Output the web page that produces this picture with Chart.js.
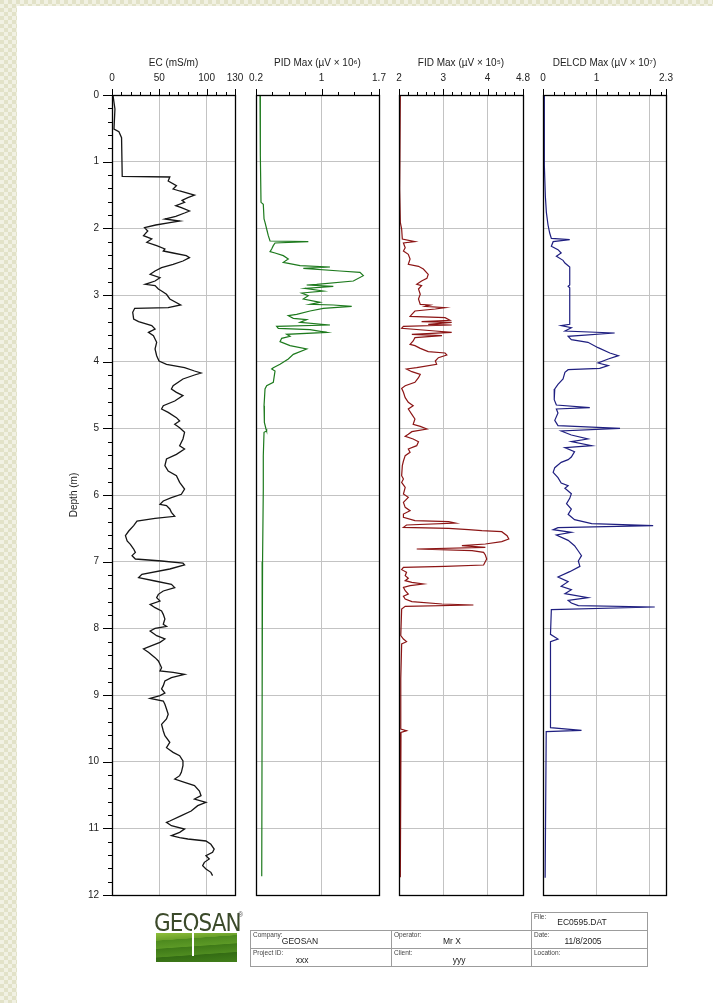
<!DOCTYPE html>
<html>
<head>
<meta charset="utf-8">
<script src="https://cdn.jsdelivr.net/npm/chart.js@4.4.1/dist/chart.umd.min.js"></script>
<style>
body {
    margin: 0; width: 713px; height: 1003px; overflow: hidden; position: relative;
    background-color: #e8e8d0;
    background-image: repeating-conic-gradient(#f1f1e3 0% 25%, #e2e2c8 0% 50%);
    background-size: 8px 8px;
    font-family: "Liberation Sans", Arial, sans-serif;
}
#paper { position: absolute; left: 17px; top: 6px; right: 0; bottom: 0; background: #fff; }
canvas { position: absolute; left: 0; top: 0; }
.cell { position: absolute; border: 1px solid #9c9c9c; box-sizing: border-box; }
.lbl { position: absolute; left: 2px; top: 0px; font-size: 6.5px; color: #444; }
.val { position: absolute; width: 100px; text-align: center; font-size: 8.5px; color: #222; }
#logoText { position: absolute; left: 154px; top: 908px; font-size: 25px; color: #3b4a2a; letter-spacing: -1px;
    transform: scaleX(0.86); transform-origin: left top; font-family: "DejaVu Sans", sans-serif; }
#logoBox { position: absolute; left: 156px; top: 933px; width: 81px; height: 29px;
    background: linear-gradient(176deg, #8fbf3a 0%, #6aa02a 22%, #4d8a1e 23%, #5c9926 45%, #3f7a18 47%, #4f8c20 70%, #346c14 72%, #427f1a 100%); }
#logoPost { position: absolute; left: 192px; top: 916px; width: 2px; height: 40px; background: #fff; }
#reg { position: absolute; left: 238px; top: 911px; font-size: 7px; color: #555; }
</style>
</head>
<body>
<div id="paper"></div>
<canvas id="c0" width="713" height="1003"></canvas>
<canvas id="c1" width="713" height="1003"></canvas>
<canvas id="c2" width="713" height="1003"></canvas>
<canvas id="c3" width="713" height="1003"></canvas>

<div id="logoBox"></div>
<div id="logoText">GEOSAN</div>
<div id="logoPost"></div>
<div id="reg">®</div>

<div class="cell" style="left:531px;top:912px;width:117px;height:19px;"><span class="lbl">File:</span></div>
<div class="cell" style="left:250px;top:930px;width:142px;height:19px;"><span class="lbl">Company:</span></div>
<div class="cell" style="left:391px;top:930px;width:141px;height:19px;"><span class="lbl">Operator:</span></div>
<div class="cell" style="left:531px;top:930px;width:117px;height:19px;"><span class="lbl">Date:</span></div>
<div class="cell" style="left:250px;top:948px;width:142px;height:19px;"><span class="lbl">Project ID:</span></div>
<div class="cell" style="left:391px;top:948px;width:141px;height:19px;"><span class="lbl">Client:</span></div>
<div class="cell" style="left:531px;top:948px;width:117px;height:19px;"><span class="lbl">Location:</span></div>
<div class="val" style="left:532px;top:917px;">EC0595.DAT</div>
<div class="val" style="left:250px;top:936px;">GEOSAN</div>
<div class="val" style="left:402px;top:936px;">Mr X</div>
<div class="val" style="left:533px;top:936px;">11/8/2005</div>
<div class="val" style="left:252px;top:955px;">xxx</div>
<div class="val" style="left:409px;top:955px;">yyy</div>

<script>
// EC (mS/m)
var ecDepth = [0.00, 0.21, 0.51, 0.55, 0.64, 1.22, 1.23, 1.29, 1.36, 1.41, 1.44, 1.50, 1.54, 1.58, 1.61, 1.66, 1.69, 1.74, 1.77, 1.82,
    1.86, 1.89, 1.91, 1.95, 1.99, 2.04, 2.11, 2.16, 2.21, 2.26, 2.31, 2.34, 2.37, 2.41, 2.44, 2.49, 2.54, 2.59, 2.64, 2.69,
    2.74, 2.79, 2.84, 2.86, 2.91, 2.94, 2.99, 3.06, 3.15, 3.19, 3.20, 3.26, 3.36, 3.40, 3.46, 3.51, 3.56, 3.61, 3.66, 3.71,
    3.81, 3.91, 3.99, 4.04, 4.09, 4.14, 4.17, 4.20, 4.26, 4.36, 4.41, 4.46, 4.51, 4.59, 4.66, 4.71, 4.76, 4.84, 4.89, 4.94,
    4.99, 5.06, 5.16, 5.26, 5.31, 5.39, 5.46, 5.56, 5.64, 5.71, 5.81, 5.91, 5.99, 6.04, 6.09, 6.14, 6.16, 6.21, 6.26, 6.32,
    6.35, 6.39, 6.46, 6.54, 6.61, 6.69, 6.74, 6.81, 6.86, 6.91, 6.96, 6.99, 7.02, 7.05, 7.11, 7.19, 7.24, 7.29, 7.34, 7.39,
    7.44, 7.49, 7.54, 7.59, 7.64, 7.69, 7.74, 7.79, 7.86, 7.94, 7.97, 8.00, 8.04, 8.11, 8.16, 8.21, 8.26, 8.31, 8.36, 8.44,
    8.49, 8.54, 8.59, 8.64, 8.66, 8.69, 8.74, 8.79, 8.86, 8.91, 8.97, 9.01, 9.05, 9.09, 9.14, 9.21, 9.29, 9.36, 9.44, 9.54,
    9.61, 9.71, 9.79, 9.86, 9.91, 9.99, 10.06, 10.16, 10.21, 10.26, 10.31, 10.36, 10.44, 10.51, 10.56, 10.61, 10.66, 10.74, 10.81, 10.89,
    10.91, 10.96, 11.01, 11.06, 11.11, 11.14, 11.16, 11.19, 11.24, 11.31, 11.36, 11.41, 11.46, 11.51, 11.56, 11.61, 11.66, 11.71];
var ecValue = [1.0, 3.1, 2.1, 7.3, 10.1, 10.8, 61.1, 59.4, 68.1, 64.6, 71.5, 87.2, 80.2, 74.0, 76.7, 67.4, 73.3, 81.9, 76.7, 67.4,
    55.9, 71.5, 62.8, 46.2, 34.4, 37.8, 33.3, 42.0, 36.8, 47.2, 55.9, 54.2, 64.6, 78.5, 81.9, 75.0, 64.6, 52.4, 45.5, 40.3,
    50.7, 45.5, 35.1, 45.5, 49.0, 52.4, 57.6, 61.1, 72.6, 59.4, 24.0, 21.9, 22.9, 28.1, 42.0, 45.5, 38.5, 43.8, 45.5, 47.2,
    45.5, 47.2, 49.7, 57.6, 76.7, 87.2, 94.1, 87.2, 75.0, 64.6, 62.8, 68.1, 75.0, 66.3, 54.2, 52.4, 59.4, 68.1, 71.5, 66.3,
    71.5, 76.7, 75.0, 71.5, 76.7, 68.1, 57.6, 55.9, 59.4, 68.1, 71.5, 76.7, 73.3, 62.8, 54.2, 50.7, 57.6, 61.1, 62.8, 66.3,
    45.5, 26.4, 22.9, 17.7, 14.2, 16.0, 19.4, 22.9, 24.7, 21.2, 24.7, 52.4, 75.0, 76.7, 61.1, 31.6, 28.1, 45.5, 62.8, 66.3,
    54.2, 49.0, 47.2, 50.7, 40.3, 45.5, 52.4, 54.2, 55.9, 54.2, 57.6, 45.5, 40.3, 47.2, 55.9, 50.7, 42.0, 33.3, 38.5, 45.5,
    49.0, 50.7, 52.4, 50.7, 64.6, 76.7, 62.8, 55.9, 54.2, 52.4, 55.9, 50.7, 40.3, 54.2, 55.9, 57.6, 59.4, 57.6, 52.4, 54.2,
    55.9, 61.1, 57.6, 64.6, 71.5, 75.0, 75.0, 73.3, 71.5, 66.3, 76.7, 87.2, 92.4, 94.1, 87.2, 99.3, 90.6, 83.7, 73.3, 61.1,
    57.6, 62.8, 76.7, 71.5, 62.8, 71.5, 80.2, 99.3, 104.5, 108.0, 106.3, 99.3, 102.8, 97.6, 95.8, 99.3, 104.5, 106.3];

// PID Max (uV x 10^6)
var pidDepth = [0.00, 0.91, 1.61, 1.64, 1.86, 1.91, 2.01, 2.11, 2.19, 2.20, 2.22, 2.26, 2.31, 2.35, 2.37, 2.41, 2.46, 2.51, 2.56, 2.58,
    2.60, 2.64, 2.66, 2.71, 2.79, 2.84, 2.85, 2.87, 2.90, 2.94, 2.97, 3.01, 3.06, 3.11, 3.14, 3.15, 3.17, 3.20, 3.24, 3.29,
    3.31, 3.35, 3.37, 3.41, 3.45, 3.47, 3.50, 3.52, 3.56, 3.59, 3.62, 3.65, 3.70, 3.76, 3.81, 3.89, 3.96, 4.04, 4.09, 4.11,
    4.14, 4.31, 4.36, 4.41, 4.66, 4.91, 5.01, 5.04, 5.06, 5.41, 5.91, 7.00, 9.00, 11.72];
var pidValue = [0.249, 0.253, 0.261, 0.289, 0.298, 0.310, 0.330, 0.350, 0.371, 0.838, 0.432, 0.411, 0.391, 0.371, 0.432, 0.533, 0.594, 0.533, 0.737, 1.102,
    0.777, 1.224, 1.468, 1.509, 1.387, 0.940, 0.818, 1.143, 0.798, 1.021, 0.757, 0.838, 0.777, 0.980, 0.859, 1.143, 1.367, 1.021, 0.859, 0.696,
    0.594, 0.655, 0.818, 0.737, 1.102, 0.452, 0.472, 0.859, 1.062, 0.574, 0.615, 0.513, 0.493, 0.615, 0.818, 0.655, 0.594, 0.493, 0.411, 0.391,
    0.432, 0.411, 0.330, 0.310, 0.298, 0.302, 0.322, 0.330, 0.298, 0.289, 0.289, 0.280, 0.275, 0.270];

// FID Max (uV x 10^5)
var fidDepth = [0.00, 1.00, 1.41, 1.91, 2.01, 2.16, 2.20, 2.22, 2.29, 2.34, 2.39, 2.46, 2.54, 2.57, 2.61, 2.69, 2.75, 2.79, 2.84, 2.86,
    2.91, 2.99, 3.06, 3.14, 3.15, 3.17, 3.19, 3.21, 3.24, 3.29, 3.32, 3.34, 3.38, 3.40, 3.41, 3.44, 3.45, 3.47, 3.50, 3.54,
    3.56, 3.59, 3.61, 3.64, 3.69, 3.74, 3.76, 3.80, 3.85, 3.87, 3.90, 3.94, 3.99, 4.04, 4.09, 4.11, 4.15, 4.19, 4.24, 4.31,
    4.36, 4.40, 4.46, 4.54, 4.61, 4.66, 4.71, 4.79, 4.86, 4.94, 4.97, 5.01, 5.05, 5.09, 5.12, 5.16, 5.20, 5.26, 5.31, 5.36,
    5.41, 5.49, 5.56, 5.71, 5.76, 5.81, 5.885, 5.985, 6.035, 6.11, 6.185, 6.235, 6.285, 6.335, 6.385, 6.40, 6.42, 6.45, 6.485, 6.50,
    6.52, 6.535, 6.55, 6.61, 6.66, 6.70, 6.735, 6.76, 6.785, 6.81, 6.835, 6.86, 6.90, 6.96, 7.05, 7.07, 7.085, 7.12, 7.16, 7.21,
    7.25, 7.285, 7.31, 7.335, 7.36, 7.385, 7.435, 7.485, 7.52, 7.56, 7.60, 7.635, 7.65, 7.67, 7.71, 8.11, 8.16, 8.20, 8.235, 8.76,
    9.51, 9.535, 9.56, 10.76, 11.735];
var fidValue = [2.03, 2.02, 2.015, 2.03, 2.06, 2.075, 2.36, 2.10, 2.14, 2.10, 2.21, 2.25, 2.21, 2.44, 2.55, 2.66, 2.63, 2.51, 2.40, 2.51,
    2.44, 2.48, 2.44, 2.48, 2.70, 2.59, 3.04, 2.82, 2.36, 2.29, 2.25, 3.04, 3.15, 2.51, 3.19, 2.66, 3.19, 2.10, 2.06, 2.82,
    3.19, 2.29, 2.97, 2.36, 2.32, 2.25, 2.36, 2.48, 2.66, 3.04, 3.08, 2.89, 2.82, 2.85, 2.40, 2.17, 2.29, 2.48, 2.44, 2.36,
    2.14, 2.06, 2.10, 2.14, 2.21, 2.32, 2.21, 2.29, 2.36, 2.32, 2.48, 2.63, 2.29, 2.21, 2.14, 2.32, 2.44, 2.40, 2.21, 2.25,
    2.14, 2.10, 2.075, 2.06, 2.10, 2.06, 2.14, 2.10, 2.21, 2.10, 2.14, 2.25, 2.10, 2.10, 2.36, 3.12, 3.27, 2.17, 2.10, 3.12,
    3.57, 3.87, 4.32, 4.44, 4.48, 4.32, 3.95, 3.42, 3.95, 2.40, 3.65, 3.91, 3.95, 3.98, 3.91, 3.04, 2.10, 2.06, 2.17, 2.14,
    2.21, 2.14, 2.29, 2.55, 2.25, 2.10, 2.14, 2.21, 2.10, 2.14, 2.29, 2.97, 3.68, 2.14, 2.06, 2.04, 2.10, 2.17, 2.06, 2.04,
    2.04, 2.17, 2.045, 2.03, 2.03];

// DELCD Max (uV x 10^7)
var delcdDepth = [0.00, 1.05, 1.52, 1.76, 1.95, 2.07, 2.15, 2.17, 2.20, 2.27, 2.32, 2.37, 2.42, 2.48, 2.52, 2.58, 2.85, 2.87, 2.89, 3.44,
    3.46, 3.49, 3.54, 3.57, 3.62, 3.67, 3.71, 3.79, 3.87, 3.91, 3.96, 4.02, 4.06, 4.10, 4.12, 4.16, 4.26, 4.34, 4.41, 4.57,
    4.65, 4.69, 4.71, 4.77, 4.88, 4.96, 5.00, 5.04, 5.10, 5.16, 5.20, 5.26, 5.29, 5.35, 5.43, 5.47, 5.51, 5.59, 5.66, 5.74,
    5.82, 5.86, 5.90, 5.98, 6.05, 6.13, 6.21, 6.29, 6.37, 6.43, 6.46, 6.49, 6.52, 6.56, 6.60, 6.68, 6.76, 6.84, 6.91, 6.99,
    7.07, 7.15, 7.23, 7.30, 7.37, 7.42, 7.48, 7.54, 7.58, 7.62, 7.66, 7.68, 7.72, 8.09, 8.16, 8.20, 9.49, 9.53, 9.55, 11.74];
var delcdValue = [0.02, 0.025, 0.044, 0.063, 0.094, 0.125, 0.156, 0.50, 0.19, 0.156, 0.28, 0.34, 0.25, 0.375, 0.41, 0.50, 0.50, 0.47, 0.50, 0.50,
    0.34, 0.53, 0.41, 1.34, 0.47, 0.53, 0.84, 1.03, 1.25, 1.41, 1.22, 1.03, 1.22, 1.06, 0.47, 0.41, 0.375, 0.28, 0.22, 0.21,
    0.25, 0.875, 0.25, 0.28, 0.22, 0.28, 1.44, 0.34, 0.53, 0.84, 0.53, 0.91, 0.41, 0.59, 0.53, 0.47, 0.34, 0.22, 0.19, 0.28,
    0.34, 0.47, 0.41, 0.53, 0.50, 0.44, 0.53, 0.47, 0.59, 0.91, 2.06, 0.28, 0.19, 0.53, 0.25, 0.47, 0.59, 0.66, 0.72, 0.66,
    0.69, 0.50, 0.28, 0.47, 0.34, 0.53, 0.41, 0.84, 0.47, 0.53, 0.66, 2.09, 0.156, 0.14, 0.28, 0.14, 0.14, 0.72, 0.06, 0.04];

// axis ticks and labels
var ecTicks = [0, 10, 20, 30, 40, 50, 60, 70, 80, 90, 100, 110, 120, 130];
var ecLabels = [0, 50, 100, 130];
var ecGrid = [50, 100];
var pidTicks = [0.2, 0.4, 0.6, 0.8, 1, 1.2, 1.4, 1.6, 1.7];
var pidLabels = [0.2, 1, 1.7];
var pidGrid = [1];
var fidTicks = [2, 2.2, 2.4, 2.6, 2.8, 3, 3.2, 3.4, 3.6, 3.8, 4, 4.2, 4.4, 4.6, 4.8];
var fidLabels = [2, 3, 4, 4.8];
var fidGrid = [3, 4];
var delcdTicks = [0, 0.2, 0.4, 0.6, 0.8, 1, 1.2, 1.4, 1.6, 1.8, 2, 2.2, 2.3];
var delcdLabels = [0, 1, 2.3];
var delcdGrid = [1, 2];
var depthLabels = [0, 1, 2, 3, 4, 5, 6, 7, 8, 9, 10, 11, 12];
var depthTicks = [];
for (let i = 0; i <= 60; i++) depthTicks.push(+(i * 0.2).toFixed(1));

const panels = [
    { title: 'EC (mS/m)', min: 0, max: 130, left: 112, right: 235, color: '#151515', width: 1.3,
      depth: ecDepth, value: ecValue, ticks: ecTicks, labels: ecLabels, grid: ecGrid, depthAxis: true },
    { title: 'PID Max (\u00b5V \u00d7 10\u2076)', min: 0.2, max: 1.7, left: 256, right: 379, color: '#1d7a1d', width: 1.2,
      depth: pidDepth, value: pidValue, ticks: pidTicks, labels: pidLabels, grid: pidGrid },
    { title: 'FID Max (\u00b5V \u00d7 10\u2075)', min: 2, max: 4.8, left: 399, right: 523, color: '#8c1515', width: 1.2,
      depth: fidDepth, value: fidValue, ticks: fidTicks, labels: fidLabels, grid: fidGrid },
    { title: 'DELCD Max (\u00b5V \u00d7 10\u2077)', min: 0, max: 2.3, left: 543, right: 666, color: '#1f1f80', width: 1.2,
      depth: delcdDepth, value: delcdValue, ticks: delcdTicks, labels: delcdLabels, grid: delcdGrid }
];

const TOP = 95, BOTTOM = 895, W = 713, H = 1003;

Chart.defaults.font.family = '"Liberation Sans", Arial, sans-serif';
Chart.defaults.font.size = 10;
Chart.defaults.color = '#222';

const frameAndTicks = {
    id: 'frameAndTicks',
    afterDraw(chart, args, opts) {
        const p = opts.panel;
        const ctx = chart.ctx;
        const a = chart.chartArea;
        const xs = chart.scales.x;
        ctx.save();
        ctx.strokeStyle = '#000';
        ctx.lineWidth = 1;
        ctx.beginPath();
        p.ticks.forEach(v => {
            const x = Math.round(xs.getPixelForValue(v)) + 0.5;
            const len = (p.labels.includes(v) || p.grid.includes(v)) ? 6 : 3;
            ctx.moveTo(x, a.top);
            ctx.lineTo(x, a.top - len);
        });
        if (p.depthAxis) {
            const ys = chart.scales.y;
            depthTicks.forEach(v => {
                const y = Math.round(ys.getPixelForValue(v)) + 0.5;
                const len = Number.isInteger(v) ? 9 : 4;
                ctx.moveTo(a.left, y);
                ctx.lineTo(a.left - len, y);
            });
        }
        ctx.stroke();
        ctx.lineWidth = 1.3;
        ctx.strokeRect(Math.round(a.left) + 0.5, Math.round(a.top) + 0.5,
            Math.round(a.right - a.left), Math.round(a.bottom - a.top));
        ctx.restore();
    }
};

panels.forEach((p, i) => {
    const yWidth = p.depthAxis ? 44 : 0;
    const pts = p.depth.map((d, k) => ({ x: p.value[k], y: d }));
    new Chart(document.getElementById('c' + i), {
        type: 'scatter',
        data: {
            datasets: [{
                data: pts,
                showLine: true,
                borderColor: p.color,
                borderWidth: p.width,
                pointRadius: 0,
                tension: 0,
                fill: false
            }]
        },
        options: {
            responsive: false,
            animation: false,
            devicePixelRatio: 1,
            events: [],
            layout: { padding: { left: p.left - yWidth, right: W - p.right, top: 0, bottom: H - BOTTOM } },
            plugins: { legend: { display: false }, tooltip: { enabled: false }, frameAndTicks: { panel: p } },
            scales: {
                x: {
                    type: 'linear',
                    position: 'top',
                    min: p.min,
                    max: p.max,
                    afterBuildTicks: s => { s.ticks = p.ticks.map(v => ({ value: v })); },
                    afterFit: s => { s.height = TOP; },
                    ticks: {
                        autoSkip: false, maxRotation: 0, padding: 11, color: '#222',
                        callback: v => p.labels.includes(v) ? String(v) : ''
                    },
                    grid: {
                        drawTicks: false,
                        color: c => (c.tick && p.grid.includes(c.tick.value)) ? '#c3c3c3' : 'rgba(0,0,0,0)',
                        lineWidth: 1
                    },
                    border: { display: false },
                    title: { display: true, text: p.title, padding: { top: 57, bottom: 0 }, color: '#222', font: { size: 10 } }
                },
                y: {
                    type: 'linear',
                    reverse: true,
                    min: 0,
                    max: 12,
                    afterBuildTicks: s => { s.ticks = depthTicks.map(v => ({ value: v })); },
                    afterFit: s => { s.width = yWidth; },
                    ticks: {
                        display: !!p.depthAxis, autoSkip: false, padding: 13, color: '#222',
                        callback: v => depthLabels.includes(v) ? String(v) : ''
                    },
                    grid: {
                        drawTicks: false,
                        color: c => (c.tick && Number.isInteger(c.tick.value) && c.tick.value > 0 && c.tick.value < 12) ? '#c3c3c3' : 'rgba(0,0,0,0)',
                        lineWidth: 1
                    },
                    border: { display: false },
                    title: { display: !!p.depthAxis, text: 'Depth (m)', padding: 0, color: '#222', font: { size: 10 } }
                }
            }
        },
        plugins: [frameAndTicks]
    });
});
</script>
</body>
</html>
